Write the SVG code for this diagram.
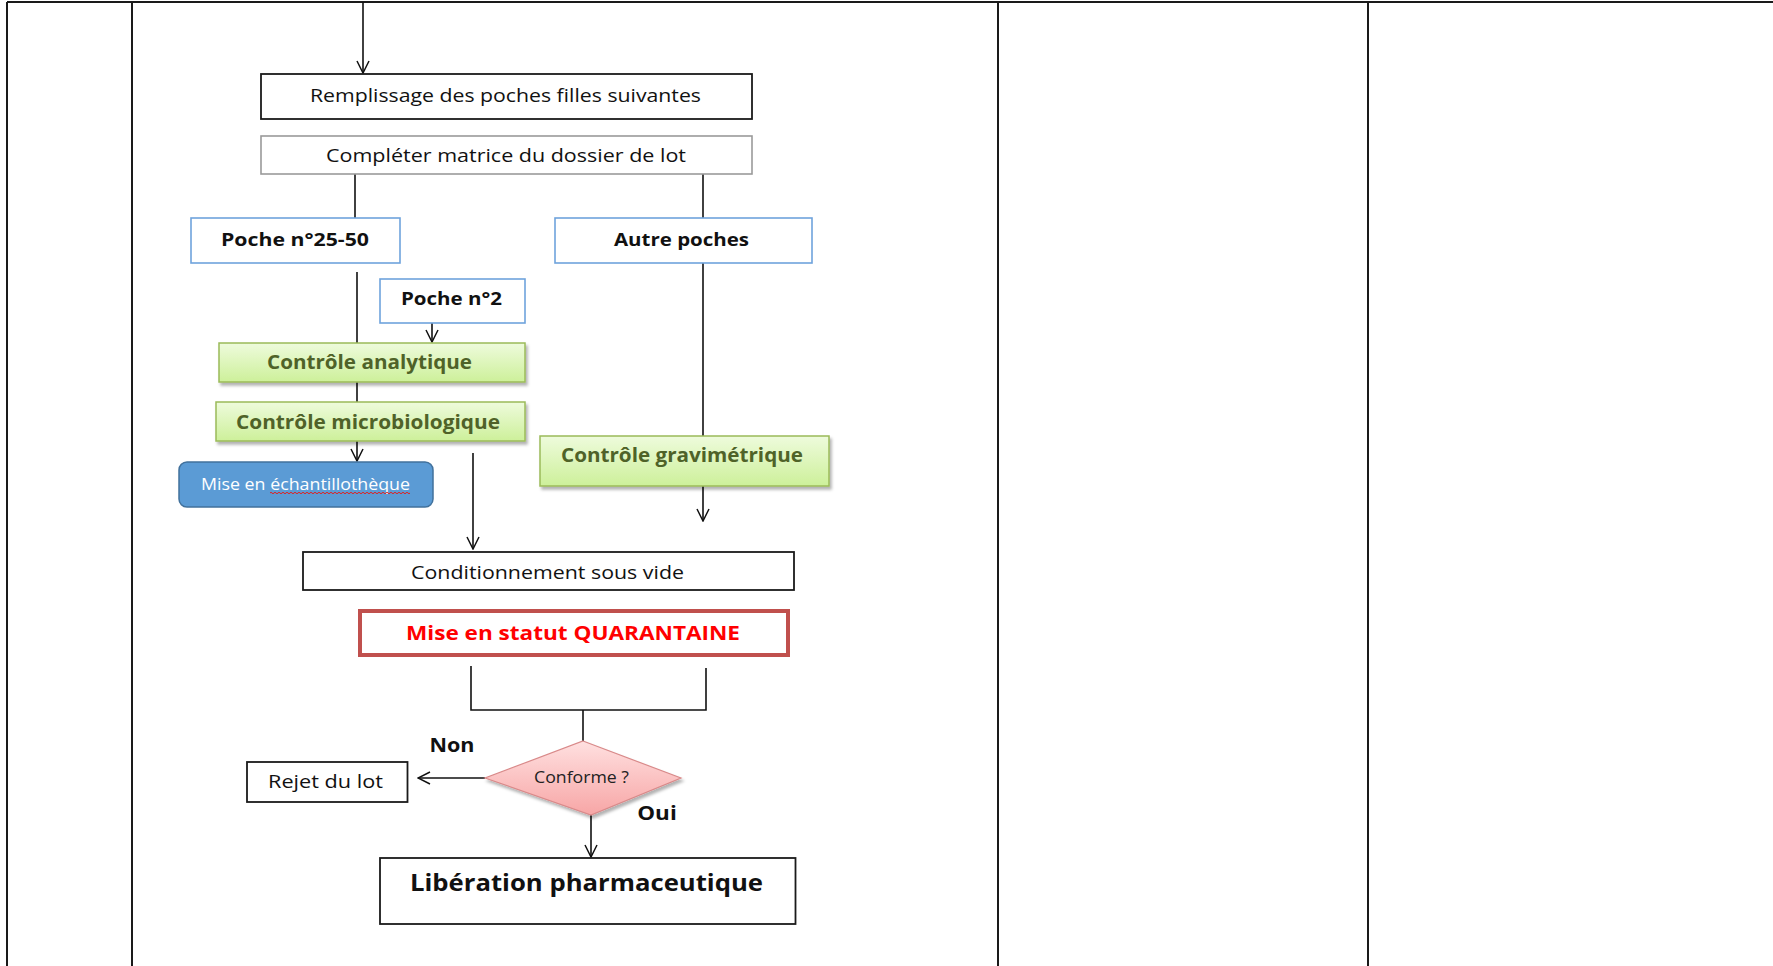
<svg xmlns="http://www.w3.org/2000/svg" width="1773" height="966" viewBox="0 0 1773 966">
  <style>
    .grid { stroke: #1a1a1a; stroke-width: 2; fill: none; }
    .box { fill: #ffffff; stroke: #1a1a1a; stroke-width: 1.8; }
    .box-grey { fill: #ffffff; stroke: #9a9a9a; stroke-width: 1.6; }
    .box-blue { fill: #ffffff; stroke: #6fa3dc; stroke-width: 1.6; }
    .box-green { fill: url(#gGreen); stroke: #9bbb59; stroke-width: 1.5; }
    .box-store { fill: #5b9bd5; stroke: #41719c; stroke-width: 1.5; }
    .box-quar { fill: #ffffff; stroke: #c0504d; stroke-width: 4; }
    .diamond { fill: url(#gPink); stroke: #d98a8a; stroke-width: 1.2; }
    .link { stroke: #111; stroke-width: 1.6; fill: none; }
    .t { font-family: "Open Sans", "Liberation Sans", sans-serif; text-anchor: middle; fill: #111; }
    .reg { font-size: 18px; }
    .bold { font-size: 18px; font-weight: 700; }
    .green { font-size: 19px; font-weight: 700; fill: #4f6228; }
    .white { font-size: 16px; fill: #ffffff; }
    .red { font-size: 20px; font-weight: 700; fill: #ff0000; }
    .big { font-size: 24px; font-weight: 700; }
    .small { font-size: 15.5px; fill: #222; }
  </style>
  <defs>
    <linearGradient id="gGreen" x1="0" y1="0" x2="0" y2="1">
      <stop offset="0" stop-color="#eefbdc"/>
      <stop offset="1" stop-color="#cdf09a"/>
    </linearGradient>
    <linearGradient id="gPink" x1="0" y1="0" x2="0" y2="1">
      <stop offset="0" stop-color="#ffe0e0"/>
      <stop offset="1" stop-color="#f7a6a6"/>
    </linearGradient>
    <filter id="shadow" x="-10%" y="-20%" width="130%" height="160%">
      <feDropShadow dx="2" dy="3" stdDeviation="1.8" flood-color="#000" flood-opacity="0.3"/>
    </filter>
    <marker id="arrow" viewBox="0 0 14 14" refX="13" refY="7" markerWidth="14" markerHeight="14" markerUnits="userSpaceOnUse" orient="auto">
      <path d="M1,1 L13,7 L1,13" fill="none" stroke="#111" stroke-width="1.5"/>
    </marker>
  </defs>

  <rect x="0" y="0" width="1773" height="966" fill="#ffffff"/>

  <!-- table grid -->
  <g id="table">
    <line class="grid" x1="7" y1="2" x2="1773" y2="2"/>
    <line class="grid" x1="7" y1="2" x2="7" y2="966"/>
    <line class="grid" x1="132" y1="2" x2="132" y2="966"/>
    <line class="grid" x1="998" y1="2" x2="998" y2="966"/>
    <line class="grid" x1="1368" y1="2" x2="1368" y2="966"/>
  </g>

  <!-- connectors -->
  <g id="connectors">
    <line class="link" x1="363" y1="2" x2="363" y2="73" marker-end="url(#arrow)"/>
    <line class="link" x1="355" y1="174" x2="355" y2="218"/>
    <line class="link" x1="703" y1="174" x2="703" y2="218"/>
    <line class="link" x1="357" y1="272" x2="357" y2="343"/>
    <line class="link" x1="432" y1="323" x2="432" y2="342" marker-end="url(#arrow)"/>
    <line class="link" x1="357" y1="382" x2="357" y2="402"/>
    <line class="link" x1="357" y1="441" x2="357" y2="461" marker-end="url(#arrow)"/>
    <line class="link" x1="473" y1="453" x2="473" y2="549" marker-end="url(#arrow)"/>
    <line class="link" x1="703" y1="263" x2="703" y2="436"/>
    <line class="link" x1="703" y1="486" x2="703" y2="521" marker-end="url(#arrow)"/>
    <polyline class="link" points="471,666 471,710 706,710 706,668"/>
    <line class="link" x1="583" y1="710" x2="583" y2="741"/>
    <line class="link" x1="485" y1="778" x2="418" y2="778" marker-end="url(#arrow)"/>
    <line class="link" x1="591" y1="813" x2="591" y2="857" marker-end="url(#arrow)"/>
  </g>

  <g id="remplissage">
    <rect class="box" x="261" y="74" width="491" height="45"/>
    <text class="t reg" x="505.5" y="102" textLength="391" lengthAdjust="spacingAndGlyphs">Remplissage des poches filles suivantes</text>
  </g>

  <g id="completer">
    <rect class="box-grey" x="261" y="136" width="491" height="38"/>
    <text class="t reg" x="506" y="161.5" textLength="360" lengthAdjust="spacingAndGlyphs">Compléter matrice du dossier de lot</text>
  </g>

  <g id="poche-25-50">
    <rect class="box-blue" x="191" y="218" width="209" height="45"/>
    <text class="t bold" x="295" y="245.5" textLength="148" lengthAdjust="spacingAndGlyphs">Poche n°25-50</text>
  </g>

  <g id="autre-poches">
    <rect class="box-blue" x="555" y="218" width="257" height="45"/>
    <text class="t bold" x="681.5" y="245.5" textLength="135" lengthAdjust="spacingAndGlyphs">Autre poches</text>
  </g>

  <g id="poche-2">
    <rect class="box-blue" x="380" y="279" width="145" height="44"/>
    <text class="t bold" x="451.5" y="304.5" textLength="101" lengthAdjust="spacingAndGlyphs">Poche n°2</text>
  </g>

  <g id="controle-analytique">
    <rect class="box-green" x="219" y="343" width="306" height="39" filter="url(#shadow)"/>
    <text class="t green" x="369.5" y="368.5" textLength="205" lengthAdjust="spacingAndGlyphs">Contrôle analytique</text>
  </g>

  <g id="controle-microbiologique">
    <rect class="box-green" x="216" y="402" width="309" height="39" filter="url(#shadow)"/>
    <text class="t green" x="368" y="428.5" textLength="264" lengthAdjust="spacingAndGlyphs">Contrôle microbiologique</text>
  </g>

  <g id="echantillotheque">
    <rect class="box-store" x="179" y="462" width="254" height="45" rx="8" ry="8"/>
    <text class="t white" x="305.5" y="490" textLength="209" lengthAdjust="spacingAndGlyphs">Mise en échantillothèque</text>
    <path d="M270,493 q1,-1.5 2,0 t2,0 t2,0 t2,0 t2,0 t2,0 t2,0 t2,0 t2,0 t2,0 t2,0 t2,0 t2,0 t2,0 t2,0 t2,0 t2,0 t2,0 t2,0 t2,0 t2,0 t2,0 t2,0 t2,0 t2,0 t2,0 t2,0 t2,0 t2,0 t2,0 t2,0 t2,0 t2,0 t2,0 t2,0 t2,0 t2,0 t2,0 t2,0 t2,0 t2,0 t2,0 t2,0 t2,0 t2,0 t2,0 t2,0 t2,0 t2,0 t2,0 t2,0 t2,0 t2,0 t2,0 t2,0 t2,0 t2,0 t2,0 t2,0 t2,0 t2,0 t2,0 t2,0 t2,0 t2,0 t2,0 t2,0 t2,0 t2,0 t2,0" fill="none" stroke="#e02020" stroke-width="1"/>
  </g>

  <g id="controle-gravimetrique">
    <rect class="box-green" x="540" y="436" width="289" height="50" filter="url(#shadow)"/>
    <text class="t green" x="682" y="461.5" textLength="242" lengthAdjust="spacingAndGlyphs">Contrôle gravimétrique</text>
  </g>

  <g id="conditionnement">
    <rect class="box" x="303" y="552" width="491" height="38"/>
    <text class="t reg" x="547.5" y="578.5" textLength="273" lengthAdjust="spacingAndGlyphs">Conditionnement sous vide</text>
  </g>

  <g id="quarantaine">
    <rect class="box-quar" x="360" y="611" width="428" height="44"/>
    <text class="t red" x="573" y="640" textLength="334" lengthAdjust="spacingAndGlyphs">Mise en statut QUARANTAINE</text>
  </g>

  <g id="conforme">
    <polygon class="diamond" points="583,741 681,778 591,815 485,778" filter="url(#shadow)"/>
    <text class="t small" x="581.5" y="782.5" textLength="95" lengthAdjust="spacingAndGlyphs">Conforme ?</text>
  </g>

  <g id="labels">
    <text class="t bold" x="452" y="751.5" textLength="45" lengthAdjust="spacingAndGlyphs" style="font-size:19px">Non</text>
    <text class="t bold" x="657" y="819.5" textLength="39.5" lengthAdjust="spacingAndGlyphs" style="font-size:19px">Oui</text>
  </g>

  <g id="rejet">
    <rect class="box" x="247" y="762" width="160.5" height="40"/>
    <text class="t reg" x="325.5" y="788" textLength="115" lengthAdjust="spacingAndGlyphs">Rejet du lot</text>
  </g>

  <g id="liberation">
    <rect class="box" x="380" y="858" width="415.5" height="66"/>
    <text class="t big" x="586.5" y="891" textLength="353" lengthAdjust="spacingAndGlyphs">Libération pharmaceutique</text>
  </g>
</svg>
